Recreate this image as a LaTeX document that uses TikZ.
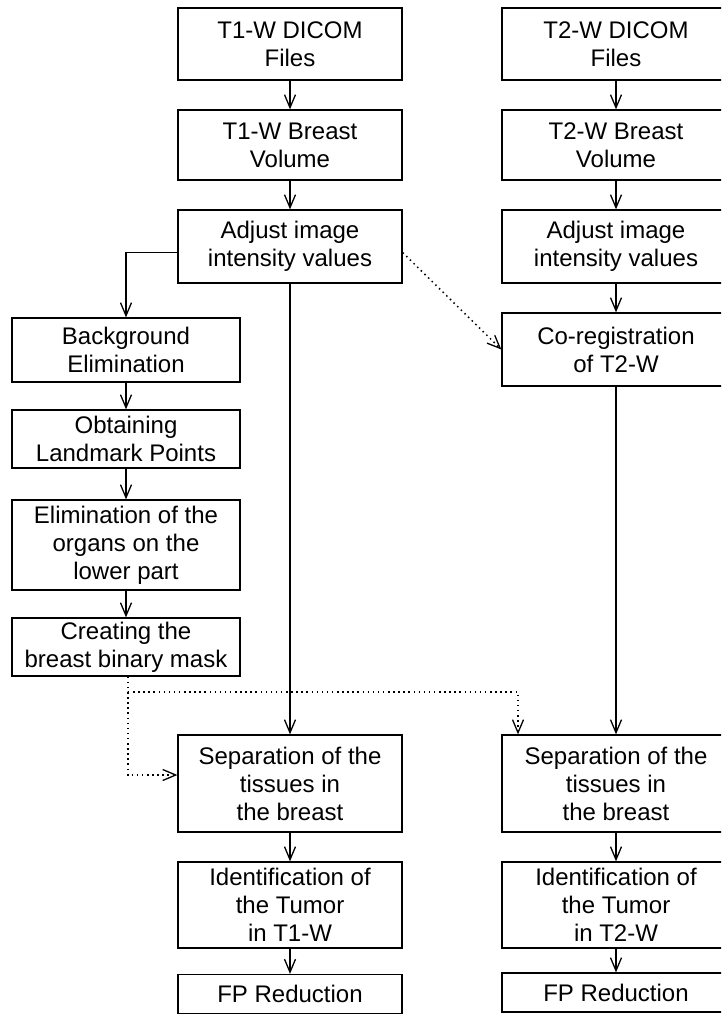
\documentclass[tikz,border=0pt]{standalone}
\usepackage{fontspec}
\setmainfont{Liberation Sans}
\usetikzlibrary{arrows.meta,calc}
\begin{document}
\begin{tikzpicture}[x=1pt,y=-1pt,
  box/.style={draw,line width=1.3pt,rectangle,align=center,inner sep=1pt,
    font=\fontsize{24}{28}\selectfont},
  lw/.style={box,minimum width=224pt},
  rw/.style={box,minimum width=228pt},
  cw/.style={box,minimum width=228pt},
  conn/.style={line width=1.3pt,-{Straight Barb[length=13pt,width=11pt,line width=1.3pt]}},
  dotline/.style={line width=1.5pt,dash pattern=on 1.5pt off 3.6pt,
    -{Straight Barb[length=13pt,width=11pt,line width=1.3pt]}},
  plain/.style={line width=1.3pt}]
\clip (0,0) rectangle (721,1014);
\fill[white] (0,0) rectangle (721,1014);
% left main column
\node[lw,minimum height=72pt] (t1a) at (290,44) {T1-W DICOM\\Files};
\node[lw,minimum height=70pt] (t1b) at (290,145) {T1-W Breast\\Volume};
\node[lw,minimum height=73pt] (t1c) at (290,246.5) {Adjust image\\intensity values};
% right column
\node[rw,minimum height=72pt] (t2a) at (616,44) {T2-W DICOM\\Files};
\node[rw,minimum height=70pt] (t2b) at (616,145) {T2-W Breast\\Volume};
\node[rw,minimum height=73pt] (t2c) at (616,246.5) {Adjust image\\intensity values};
\node[rw,minimum height=73pt] (co) at (616,349.5) {Co-registration\hspace{28pt}\\of T2-W\hspace{28pt}};
% far left column
\node[cw,minimum height=64pt] (bg) at (126,350) {Background\\Elimination};
\node[cw,minimum height=58pt] (lm) at (126,439) {Obtaining\\Landmark Points};
\node[cw,minimum height=90pt] (el) at (126,545) {Elimination of the\\organs on the\\lower part};
\node[cw,minimum height=58pt] (cm) at (126,647) {Creating the\\breast binary mask};
% lower
\node[lw,minimum height=97pt] (s1) at (290,783.5) {Separation of the\\tissues in\\the breast};
\node[rw,minimum height=97pt] (s2) at (616,783.5) {Separation of the\\tissues in\\the breast};
\node[lw,minimum height=86pt] (i1) at (290,905) {Identification of\\the Tumor\\in T1-W};
\node[rw,minimum height=86pt] (i2) at (616,905) {Identification of\\the Tumor\\in T2-W};
\node[lw,minimum height=39pt] (f1) at (290,994) {FP Reduction};
\node[rw,minimum height=39pt] (f2) at (616,992.5) {FP Reduction};
% connectors
\draw[conn] (t1a) -- (t1b);
\draw[conn] (t1b) -- (t1c);
\draw[conn] (t2a) -- (t2b);
\draw[conn] (t2b) -- (t2c);
\draw[conn] (t2c) -- (co);
\draw[conn] ($(t1c.west)+(0,6)$) -| (bg.north);
\draw[conn] (bg) -- (lm);
\draw[conn] (lm) -- (el);
\draw[conn] (el) -- (cm);
\draw[conn] (t1c.south) -- (s1.north);
\draw[conn] (co.south) -- (s2.north);
\draw[conn] (s1) -- (i1);
\draw[conn] (i1) -- (f1);
\draw[conn] (s2) -- (i2);
\draw[conn] (i2) -- (f2);
\draw[dotline] ($(t1c.east)+(0,6)$) -- (co.west);
\coordinate (m1) at (128,692);
\coordinate (m2) at (518,692);
\draw[dotline] (m1 |- cm.south) -- (m1) -- (m2) -- (m2 |- s2.north);
\draw[dotline] (m1) |- ($(s1.west)+(0,-8.5)$);
\end{tikzpicture}
\end{document}
